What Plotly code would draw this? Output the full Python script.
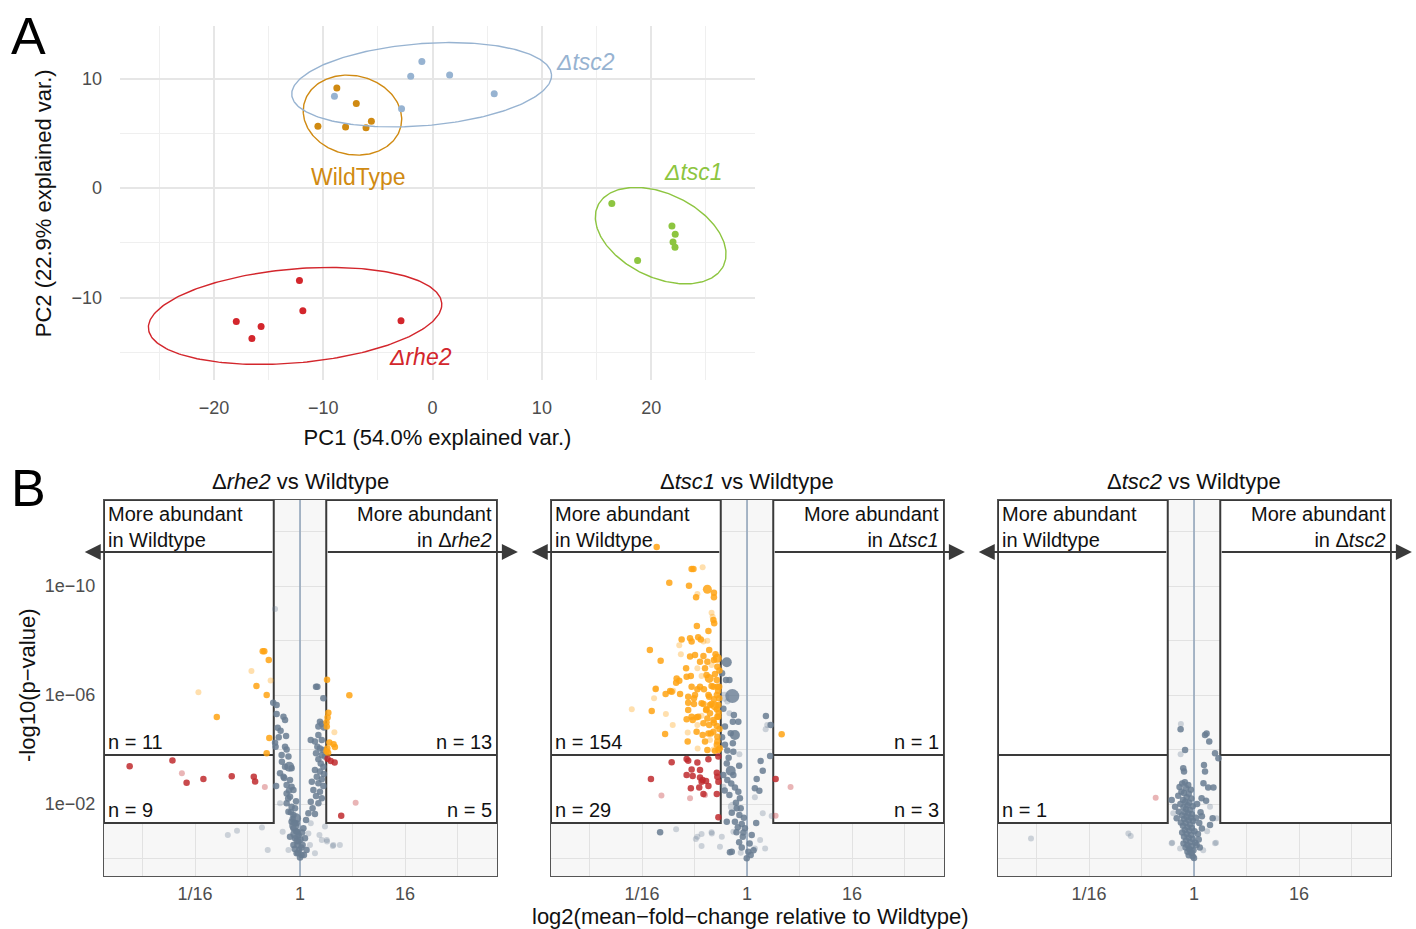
import numpy as np
import plotly.graph_objects as go

W, H = 1416, 929
FONT = "Liberation Sans, Arial, sans-serif"

# ---------------- Panel A: PCA data ----------------
wt_pc1 = [-8.76, -6.98, -10.49, -7.96, -6.09, -5.6]
wt_pc2 = [9.13, 7.72, 5.64, 5.57, 5.51, 6.09]
tsc2_pc1 = [-8.98, -2.84, -2.0, -0.98, 1.56, 5.64]
tsc2_pc2 = [8.39, 7.23, 10.2, 11.55, 10.32, 8.61]
tsc1_pc1 = [16.4, 18.76, 21.9, 22.2, 22.0, 22.18]
tsc1_pc2 = [-1.41, -6.62, -3.46, -4.23, -4.93, -5.42]
rhe2_pc1 = [-12.18, -11.87, -17.96, -15.69, -16.53, -2.89]
rhe2_pc2 = [-8.45, -11.21, -12.19, -12.65, -13.75, -12.13]
# confidence ellipses: centre x, centre y, semi-axis a, semi-axis b, angle (deg)
wt_ell = (-7.33, 6.66, 4.55, 3.6, -13.0)
tsc2_ell = (-1.0, 9.43, 11.92, 3.75, 4.5)
tsc1_ell = (20.87, -4.35, 6.37, 3.82, -25.5)
rhe2_ell = (-12.58, -11.68, 13.47, 4.29, 5.0)
group_labels = ["WildType", "<i>Δtsc2</i>", "<i>Δtsc1</i>", "<i>Δrhe2</i>"]
label_pos = [(-6.8, 1.0), (14.0, 11.5), (23.84, 1.46), (-1.14, -15.43)]

# ---------------- Panel B: volcano data (log2 FC, -log10 p) ----------------
rhe2_orange = [(-1.42, 7.61), (-1.36, 7.61), (-1.19, 7.28), (-1.66, 6.33), (-1.27, 6.0),
               (-3.17, 5.19), (-1.17, 4.42), (-1.27, 3.86),
               (1.03, 6.56), (1.88, 5.99), (1.08, 5.35), (1.05, 5.17), (1.01, 5.0), (1.02, 4.84),
               (1.12, 4.26), (1.28, 4.19), (1.33, 4.09), (1.04, 4.04), (1.01, 3.94), (1.07, 3.88)]
rhe2_orange_faint = [(-1.85, 6.88), (-1.12, 6.53), (-3.87, 6.1), (1.31, 4.63)]
rhe2_red = [(-6.49, 3.39), (-4.86, 3.6), (-4.32, 2.78), (-3.68, 2.92), (-2.6, 3.02), (-1.76, 3.0),
            (-1.71, 2.83), (1.05, 3.66), (1.17, 3.58), (1.32, 3.52), (1.57, 1.57)]
rhe2_red_faint = [(-4.5, 3.13), (-1.34, 2.62), (2.12, 2.05)]
rhe2_grey = [(-1.02, 5.72), (-0.89, 5.63), (-0.89, 5.3), (-0.63, 5.2), (-0.57, 5.08), (-0.74, 4.69),
             (-0.53, 4.5), (-0.81, 4.45), (-0.95, 4.25), (-0.93, 4.1), (-0.57, 4.1), (-0.51, 4.0),
             (-0.44, 3.74), (-0.69, 3.55), (-0.57, 3.37), (-0.32, 3.31), (-0.76, 3.13), (-0.63, 3.0),
             (-0.38, 2.88), (-0.51, 2.7), (-0.91, 2.66), (-0.32, 2.63), (-0.25, 2.51), (-0.51, 2.39),
             (-0.38, 2.27), (-0.51, 2.03), (-0.32, 1.9), (-0.19, 1.84), (-0.44, 1.72), (-0.25, 1.6),
             (-0.32, 1.35), (-0.13, 1.29), (-0.25, 1.11), (-0.1, 0.98), (-0.38, 0.8), (-0.19, 0.74),
             (-0.06, 0.62), (-0.25, 0.5), (-0.03, 0.31), (-0.13, 0.19), (0.0, 0.04), (0.06, 0.13),
             (0.61, 6.3), (0.66, 6.3), (0.89, 5.88), (0.76, 5.02), (0.83, 4.94), (0.70, 4.84),
             (0.91, 4.81), (0.70, 4.53), (0.41, 4.35), (0.57, 4.29), (0.83, 4.35), (0.66, 4.1),
             (0.76, 4.04), (0.89, 3.98), (0.61, 3.86), (0.83, 3.8), (0.95, 3.74), (0.70, 3.64),
             (0.79, 3.49), (0.89, 3.37), (0.57, 3.25), (0.76, 3.19), (0.91, 3.1), (0.64, 3.0),
             (0.83, 2.91), (0.45, 2.82), (0.70, 2.76), (0.89, 2.66), (0.51, 2.51), (0.76, 2.45),
             (0.61, 2.29), (0.83, 2.21), (0.41, 2.08), (0.70, 2.03), (0.48, 1.84), (0.32, 1.66),
             (0.57, 1.63), (0.23, 1.41), (0.13, 1.11), (0.19, 0.74), (0.10, 0.5), (0.25, 0.31),
             (0.15, 0.13), (-0.15, 1.0), (-0.1, 0.5), (-0.05, 0.85), (-0.2, 1.3), (-0.08, 0.2),
             (0.05, 0.4), (-0.12, 0.65), (-0.2, 0.35), (-0.28, 1.45), (-0.35, 1.7), (-0.15, 2.1),
             (-0.42, 2.5), (-0.6, 2.95), (-0.7, 3.8), (-0.85, 4.8), (-0.45, 2.2), (0.02, 0.7),
             (0.08, 0.95)]
rhe2_grey_faint = [(-0.95, 9.16), (-1.23, 0.31), (-1.45, 1.14), (-0.66, 0.98), (-0.44, 0.31),
                   (-2.75, 0.86), (-2.4, 1.02), (-0.76, 2.03), (0.41, 1.29), (0.32, 0.92),
                   (0.95, 1.17), (0.74, 0.86), (1.02, 0.68), (1.27, 0.5), (1.52, 0.5), (0.83, 0.68),
                   (0.57, 0.19), (0.38, 0.5), (1.03, 0.62), (1.25, 0.46)]
rhe2_grey_big = [(-0.41, 3.37), (-0.15, 1.48), (-0.22, 1.2), (-0.18, 0.9)]

tsc1_orange = [(-2.11, 10.62), (-2.04, 10.62), (-2.96, 10.12), (-2.21, 10.01), (-1.94, 9.59),
               (-1.26, 9.75), (-1.26, 9.59), (-1.28, 8.75), (-1.25, 8.63), (-1.91, 8.53),
               (-1.47, 8.35), (-2.49, 8.04), (-2.17, 8.08), (-2.11, 7.96), (-1.86, 8.12),
               (-1.76, 8.04), (-3.7, 7.65), (-3.29, 7.26), (-2.17, 7.41), (-1.98, 7.47),
               (-1.66, 7.43), (-1.44, 7.65), (-1.79, 7.22), (-1.51, 7.22), (-1.26, 7.28),
               (-1.13, 7.04), (-1.6, 6.98), (-2.32, 6.98), (-2.68, 6.61), (-2.58, 6.52),
               (-2.3, 6.67), (-2.14, 6.7), (-2.7, 6.45), (-1.54, 6.73), (-1.22, 6.77),
               (-1.15, 6.55), (-2.11, 6.3), (-1.89, 6.21), (-1.64, 6.21), (-1.35, 6.33),
               (-1.13, 6.3), (-3.1, 6.04), (-2.87, 6.12), (-2.55, 6.04), (-2.24, 5.94),
               (-2.02, 5.88), (-1.44, 5.94), (-1.26, 5.84), (-1.06, 5.88), (-2.24, 5.72),
               (-2.02, 5.67), (-1.73, 5.7), (-1.41, 5.63), (-3.63, 5.41), (-2.24, 5.45),
               (-1.54, 5.48), (-1.15, 5.48), (-2.3, 5.11), (-2.11, 5.2), (-1.92, 5.18),
               (-1.51, 5.14), (-1.28, 5.08), (-1.09, 5.2), (-1.66, 4.96), (-1.44, 4.9),
               (-1.15, 4.86), (-3.12, 4.57), (-1.69, 4.53), (-1.47, 4.59), (-1.28, 4.65),
               (-1.13, 4.47), (-2.26, 4.29), (-1.6, 4.29), (-1.15, 4.17), (-1.51, 3.98),
               (-1.09, 3.98), (-3.44, 11.43), (-3.48, 6.22), (-2.93, 6.15), (-1.22, 3.95),
               (-1.13, 4.29), (-1.92, 4.65), (-2.07, 5.08), (-1.86, 5.2), (-1.41, 5.33),
               (-1.13, 5.2), (-1.26, 4.98), (-1.56, 5.45), (-1.09, 5.63), (-1.35, 5.67),
               (-1.66, 5.67), (-1.98, 6.0), (-1.47, 6.0), (-1.15, 6.0), (-1.79, 6.3),
               (-1.28, 6.3), (-1.06, 6.3), (-1.38, 4.59), (-1.04, 4.05), (-1.05, 4.75),
               (-1.08, 5.35), (-1.1, 6.15), (-1.05, 6.9), (-1.2, 7.5), (1.32, 4.56)]
tsc1_orange_faint = [(-1.69, 10.69), (-1.89, 9.71), (-1.35, 9.02), (-1.31, 8.87), (-1.66, 7.96),
                     (-1.51, 7.99), (-2.58, 7.83), (-2.52, 7.5), (-1.35, 7.1), (-1.89, 6.98),
                     (-1.73, 6.7), (-3.47, 6.25), (-2.81, 6.16), (-3.54, 5.88), (-4.39, 5.48),
                     (-3.09, 5.3), (-1.73, 5.24), (-2.83, 4.9), (-1.89, 4.9), (-2.26, 4.62),
                     (-1.41, 4.35), (-1.88, 4.04), (-1.28, 4.0)]
tsc1_orange_big = [(-1.51, 9.88), (-1.13, 7.35), (-1.44, 6.61), (-1.22, 5.6)]
tsc1_red = [(-2.87, 3.53), (-2.3, 3.65), (-2.24, 3.59), (-1.89, 3.52), (-1.47, 3.64), (-1.09, 3.74),
            (-1.79, 3.25), (-2.11, 3.27), (-3.66, 2.92), (-2.3, 3.06), (-2.07, 3.03), (-1.79, 2.97),
            (-1.69, 2.88), (-1.56, 2.84), (-1.73, 2.82), (-1.15, 3.15), (-1.13, 3.0), (-1.09, 2.82),
            (-2.14, 2.58), (-1.82, 2.61), (-1.47, 2.66), (-1.15, 2.37), (-1.09, 1.51), (-1.66, 2.37),
            (1.09, 2.92)]
tsc1_red_faint = [(-3.26, 2.31), (-2.17, 2.21), (-1.6, 2.33), (1.66, 2.62), (1.09, 1.57)]
tsc1_grey = [(-0.8, 6.55), (-0.67, 6.55), (-0.5, 5.27), (-0.54, 5.02), (-0.33, 5.02), (-0.84, 4.84),
             (-0.54, 4.23), (-0.84, 4.17), (-0.75, 3.96), (-0.52, 3.92), (0.72, 5.23), (0.9, 4.9),
             (0.52, 3.58), (0.88, 3.76), (0.6, 3.22), (0.37, 2.92), (0.3, 2.58), (0.47, 2.49),
             (-0.77, 3.49), (-0.52, 3.06), (-0.9, 3.06), (-0.75, 2.88), (-0.46, 2.61), (-0.33, 2.45),
             (-0.67, 2.33), (-0.27, 2.21), (-0.39, 1.84), (-0.24, 1.84), (-0.58, 1.68), (-0.29, 1.6),
             (-0.77, 1.35), (-0.46, 1.35), (-0.2, 1.27), (-0.08, 1.11), (-0.14, 0.95), (0.18, 0.86),
             (-0.16, 0.8), (-0.58, 0.25), (0.05, 0.25), (0.14, 0.13), (-0.01, 0.01), (-3.31, 0.96),
             (-0.65, 0.23), (-0.4, 0.96), (-0.95, 6.8), (-0.9, 5.5), (-0.62, 4.6), (-0.95, 4.45),
             (-0.7, 3.7), (-0.3, 3.4), (-0.6, 2.75), (-0.85, 2.5), (-0.42, 2.05), (-0.12, 1.5),
             (-0.35, 1.15), (0.1, 0.55), (-0.3, 0.6), (-0.2, 0.4), (0.25, 0.3), (0.35, 1.3)]
tsc1_grey_faint = [(-0.29, 3.83), (0.77, 4.9), (0.3, 2.25), (0.6, 1.66), (0.94, 1.56), (-0.9, 2.63),
                   (-0.52, 0.98), (0.3, 0.37), (0.5, 0.68), (0.69, 0.37), (-0.96, 0.8), (-1.34, 0.92),
                   (-1.73, 0.9), (-1.89, 0.8), (-1.73, 0.46), (-1.03, 0.43), (-0.24, 0.21),
                   (-2.7, 1.07), (-1.95, 0.72), (-1.35, 0.96), (-0.75, 5.76), (-0.67, 5.33),
                   (0.71, 4.74)]
tsc1_grey_big = [(-0.77, 7.2), (-0.46, 4.53), (-0.62, 3.22)]
tsc1_grey_huge = [(-0.56, 5.96)]
tsc1_grey_big_faint = [(-0.86, 5.94), (-0.54, 1.9)]

tsc2_grey = [(-0.51, 4.74), (-0.34, 3.98), (-0.41, 3.31), (-0.38, 3.19), (0.42, 4.53), (0.48, 4.59),
             (0.58, 4.29), (0.8, 3.86), (0.93, 3.68), (0.38, 3.43), (0.42, 3.19), (0.36, 2.76),
             (0.54, 2.61), (0.74, 2.61), (0.29, 2.21), (0.46, 2.12), (0.71, 1.48), (0.61, 1.23),
             (-0.85, 2.15), (-0.72, 1.9), (-0.66, 1.48),
             (-0.45, 2.75), (-0.35, 2.8), (-0.22, 2.7), (-0.55, 2.62), (-0.3, 2.58), (-0.12, 2.52),
             (-0.48, 2.45), (-0.38, 2.4), (-0.2, 2.38), (-0.6, 2.3), (-0.28, 2.25), (-0.1, 2.2),
             (-0.42, 2.15), (-0.33, 2.08), (-0.18, 2.05), (-0.52, 2.0), (-0.25, 1.95), (-0.05, 1.92),
             (-0.4, 1.88), (-0.3, 1.82), (-0.15, 1.78), (-0.58, 1.72), (-0.35, 1.7), (-0.22, 1.65),
             (-0.08, 1.62), (-0.45, 1.58), (-0.28, 1.52), (-0.12, 1.5), (-0.38, 1.45), (-0.2, 1.4),
             (-0.03, 1.38), (-0.5, 1.32), (-0.32, 1.3), (-0.15, 1.25), (-0.42, 1.2), (-0.25, 1.15),
             (-0.08, 1.12), (-0.35, 1.05), (-0.18, 1.02), (0.02, 1.0), (-0.45, 0.95), (-0.28, 0.9),
             (-0.12, 0.86), (-0.38, 0.8), (-0.2, 0.76), (-0.05, 0.72), (-0.3, 0.66), (-0.15, 0.6),
             (0.05, 0.58), (-0.4, 0.55), (-0.25, 0.5), (-0.1, 0.45), (-0.32, 0.4), (-0.18, 0.35),
             (-0.02, 0.3), (-0.25, 0.25), (-0.1, 0.2), (-0.2, 0.12), (-0.05, 0.08), (0.0, 0.02),
             (-0.15, 0.3), (0.1, 0.5), (0.15, 0.9), (0.2, 1.3), (0.25, 1.7), (0.12, 2.0), (0.3, 1.1),
             (0.18, 0.7), (0.08, 1.5), (0.22, 0.4), (0.3, 1.55)]
tsc2_grey_faint = [(-0.5, 4.94), (-0.51, 3.83), (0.61, 1.9), (0.8, 0.56), (0.86, 1.48), (-0.79, 1.66),
                   (-0.85, 0.56), (-0.53, 0.37), (-6.21, 0.73), (-2.5, 0.92), (-2.41, 0.83),
                   (-0.83, 0.58), (0.84, 0.58), (0.35, 0.3), (0.5, 1.0)]
tsc2_red_faint = [(-1.46, 2.23)]

panel_titles = ["Δ<i>rhe2</i> vs Wildtype", "Δ<i>tsc1</i> vs Wildtype", "Δ<i>tsc2</i> vs Wildtype"]
panel_mutants = ["Δ<i>rhe2</i>", "Δ<i>tsc1</i>", "Δ<i>tsc2</i>"]
counts_up_left = ["n = 11", "n = 154", ""]
counts_up_right = ["n = 13", "n = 1", ""]
counts_low_left = ["n = 9", "n = 29", "n = 1"]
counts_low_right = ["n = 5", "n = 3", ""]
x_tickvals = [-4, 0, 4]
x_ticktext = ["1/16", "1", "16"]
y_tickvals = [2, 6, 10]
y_ticktext = ["1e\u221202", "1e\u221206", "1e\u221210"]

FC_CUT = 1.0
P_CUT = 1.301      # p = 0.05
Q_CUT = 3.8        # adjusted threshold
ARROW_Y = 11.25

# ---------------- colours ----------------
C_WT, C_TSC2, C_TSC1, C_RHE2 = "#D08A12", "#97B3D1", "#8DC540", "#D3262C"
C_OR, C_RED, C_GREY = "#FFA313", "#BF2A2E", "#687C92"
C_BOX = "#3a3a3a"

fig = go.Figure()

# ---------------- Panel A ----------------
def ellipse(p):
    cx, cy, a, b, ang = p
    t = np.linspace(0, 2 * np.pi, 241)
    th = np.deg2rad(ang)
    x = cx + a * np.cos(t) * np.cos(th) - b * np.sin(t) * np.sin(th)
    y = cy + a * np.cos(t) * np.sin(th) + b * np.sin(t) * np.cos(th)
    return x, y

for xs, ys, ell, col in [(wt_pc1, wt_pc2, wt_ell, C_WT), (tsc2_pc1, tsc2_pc2, tsc2_ell, C_TSC2),
                         (tsc1_pc1, tsc1_pc2, tsc1_ell, C_TSC1), (rhe2_pc1, rhe2_pc2, rhe2_ell, C_RHE2)]:
    ex, ey = ellipse(ell)
    fig.add_trace(go.Scatter(x=ex, y=ey, mode="lines", line=dict(color=col, width=1.4),
                             xaxis="x", yaxis="y", showlegend=False, hoverinfo="skip"))
    fig.add_trace(go.Scatter(x=xs, y=ys, mode="markers", marker=dict(color=col, size=7),
                             xaxis="x", yaxis="y", showlegend=False))

annotations = []
for lab, (lx, ly), col in zip(group_labels, label_pos, [C_WT, C_TSC2, C_TSC1, C_RHE2]):
    annotations.append(dict(x=lx, y=ly, xref="x", yref="y", text=lab, showarrow=False,
                            xanchor="center", yanchor="middle",
                            font=dict(size=23, color=col, family=FONT)))

# ---------------- Panel B ----------------
XMIN, XMAX = -7.467, 7.505
YMIN, YMAX = -0.642, 13.156
panels = [
    dict(grey=rhe2_grey, grey_faint=rhe2_grey_faint, grey_big=rhe2_grey_big, grey_huge=[], grey_big_faint=[],
         orange=rhe2_orange, orange_faint=rhe2_orange_faint, orange_big=[], red=rhe2_red, red_faint=rhe2_red_faint),
    dict(grey=tsc1_grey, grey_faint=tsc1_grey_faint, grey_big=tsc1_grey_big, grey_huge=tsc1_grey_huge,
         grey_big_faint=tsc1_grey_big_faint, orange=tsc1_orange, orange_faint=tsc1_orange_faint,
         orange_big=tsc1_orange_big, red=tsc1_red, red_faint=tsc1_red_faint),
    dict(grey=tsc2_grey, grey_faint=tsc2_grey_faint, grey_big=[], grey_huge=[], grey_big_faint=[],
         orange=[], orange_faint=[], orange_big=[], red=[], red_faint=tsc2_red_faint),
]
styles = [("grey_faint", C_GREY, 6, 0.3), ("grey_big_faint", C_GREY, 10, 0.3), ("grey", C_GREY, 6.5, 0.85),
          ("grey_big", C_GREY, 10, 0.85), ("grey_huge", C_GREY, 14, 0.8),
          ("orange_faint", C_OR, 6, 0.35), ("orange", C_OR, 6.5, 0.85), ("orange_big", C_OR, 9, 0.85),
          ("red_faint", C_RED, 6, 0.35), ("red", C_RED, 6.5, 0.85)]

shapes = []
for i, pdat in enumerate(panels):
    k = i + 2
    xa, ya = f"x{k}", f"y{k}"
    shapes.append(dict(type="rect", xref=f"{xa} domain", yref=f"{ya} domain", x0=0, x1=1, y0=0, y1=1,
                       fillcolor="#f7f7f7", line=dict(width=0), layer="below"))
    for bx0, bx1 in [(XMIN, -FC_CUT), (FC_CUT, XMAX)]:
        shapes.append(dict(type="rect", xref=xa, yref=ya, x0=bx0, x1=bx1, y0=P_CUT, y1=YMAX,
                           fillcolor="white", line=dict(color=C_BOX, width=2), layer="between"))
        shapes.append(dict(type="line", xref=xa, yref=ya, x0=bx0, x1=bx1, y0=Q_CUT, y1=Q_CUT,
                           line=dict(color=C_BOX, width=2), layer="between"))
    shapes.append(dict(type="line", xref=xa, yref=ya, x0=0, x1=0, y0=YMIN, y1=YMAX,
                       line=dict(color="#8EA2B8", width=1.5), layer="between"))
    for key, col, sz, op in styles:
        pts = pdat[key]
        if not pts:
            continue
        fig.add_trace(go.Scatter(x=[p[0] for p in pts], y=[p[1] for p in pts], mode="markers",
                                 marker=dict(color=col, size=sz, opacity=op, line=dict(width=0)),
                                 xaxis=xa, yaxis=ya, showlegend=False, hoverinfo="skip"))
    for tip, tail in [(-8.2, -FC_CUT), (8.3, FC_CUT)]:
        annotations.append(dict(x=tip, y=ARROW_Y, ax=tail, ay=ARROW_Y, xref=xa, yref=ya, axref=xa, ayref=ya,
                                text="", showarrow=True, arrowhead=2, arrowsize=1.6, arrowwidth=2,
                                arrowcolor=C_BOX))
    tf = dict(size=20, color="#111111", family=FONT)
    annotations.append(dict(x=XMIN, y=YMAX, xref=xa, yref=ya, xanchor="left", yanchor="top", xshift=2,
                            yshift=-1, align="left", text="More abundant<br>in Wildtype",
                            showarrow=False, font=tf))
    annotations.append(dict(x=XMAX, y=YMAX, xref=xa, yref=ya, xanchor="right", yanchor="top", xshift=-3,
                            yshift=-1, align="right", text=f"More abundant<br>in {panel_mutants[i]}",
                            showarrow=False, font=tf))
    for txt, xx, anc, yy, xs in [(counts_up_left[i], XMIN, "left", Q_CUT, 2),
                                 (counts_up_right[i], XMAX, "right", Q_CUT, -3),
                                 (counts_low_left[i], XMIN, "left", P_CUT, 2),
                                 (counts_low_right[i], XMAX, "right", P_CUT, -3)]:
        if txt:
            annotations.append(dict(x=xx, y=yy, xref=xa, yref=ya, xanchor=anc, yanchor="bottom",
                                    xshift=xs, yshift=0, text=txt, showarrow=False, font=tf))
    annotations.append(dict(x=0, y=YMAX, xref=xa, yref=ya, xanchor="center", yanchor="bottom", yshift=4,
                            text=panel_titles[i], showarrow=False,
                            font=dict(size=22, color="#111111", family=FONT)))

annotations += [
    dict(x=28 / W, y=1 - 36 / H, xref="paper", yref="paper", text="A", showarrow=False,
         xanchor="center", yanchor="middle", font=dict(size=52, color="black", family=FONT)),
    dict(x=28 / W, y=1 - 488 / H, xref="paper", yref="paper", text="B", showarrow=False,
         xanchor="center", yanchor="middle", font=dict(size=52, color="black", family=FONT)),
    dict(x=750 / W, y=1 - 916 / H, xref="paper", yref="paper", xanchor="center", yanchor="middle",
         text="log2(mean\u2212fold\u2212change relative to Wildtype)", showarrow=False,
         font=dict(size=22, color="#111111", family=FONT)),
    dict(x=27 / W, y=1 - 686 / H, xref="paper", yref="paper", text="-log10(p\u2212value)", textangle=-90,
         xanchor="center", yanchor="middle", showarrow=False,
         font=dict(size=22, color="#111111", family=FONT)),
]

tickfont = dict(size=18, color="#4d4d4d", family=FONT)
layout = dict(
    width=W, height=H, margin=dict(l=0, r=0, t=0, b=0), autosize=False,
    paper_bgcolor="white", plot_bgcolor="white", font=dict(family=FONT),
    shapes=shapes, annotations=annotations, showlegend=False,
    xaxis=dict(domain=[120 / W, 755 / W], range=[-28.6, 29.5], anchor="y", tickmode="linear", tick0=0,
               dtick=10, showgrid=True, gridcolor="#e6e6e6", gridwidth=1.6, zeroline=False,
               minor=dict(dtick=5, tick0=0, showgrid=True, gridcolor="#efefef", gridwidth=1),
               tickfont=tickfont, ticklabelstandoff=15,
               title=dict(text="PC1 (54.0% explained var.)", standoff=12,
                          font=dict(size=22, color="#111111", family=FONT))),
    yaxis=dict(domain=[1 - 380.2 / H, 1 - 26.4 / H], range=[-17.55, 14.76], anchor="x", tickmode="linear",
               tick0=0, dtick=10, showgrid=True, gridcolor="#e6e6e6", gridwidth=1.6, zeroline=False,
               minor=dict(dtick=5, tick0=0, showgrid=True, gridcolor="#efefef", gridwidth=1),
               tickfont=tickfont, ticklabelstandoff=17,
               title=dict(text="PC2 (22.9% explained var.)", standoff=13,
                          font=dict(size=22, color="#111111", family=FONT))),
)
xdoms = [[104 / W, 497 / W], [551 / W, 944 / W], [998 / W, 1391 / W]]
for i in range(3):
    k = i + 2
    layout[f"xaxis{k}"] = dict(domain=xdoms[i], range=[XMIN, XMAX], anchor=f"y{k}", tickmode="array",
                               tickvals=x_tickvals, ticktext=x_ticktext, showgrid=True, gridcolor="#e2e2e2",
                               gridwidth=1, zeroline=False,
                               minor=dict(tickvals=[-6, -2, 2, 6], showgrid=True, gridcolor="#e2e2e2",
                                          gridwidth=1),
                               showline=True, mirror=True, linecolor="#555555", linewidth=1.2,
                               tickfont=tickfont, ticklabelstandoff=1)
    layout[f"yaxis{k}"] = dict(domain=[1 - 876 / H, 1 - 500 / H], range=[YMIN, YMAX], anchor=f"x{k}",
                               tickmode="array", tickvals=y_tickvals,
                               ticktext=y_ticktext if i == 0 else ["", "", ""],
                               showgrid=True, gridcolor="#e2e2e2", gridwidth=1, zeroline=False,
                               minor=dict(tickvals=[0, 4, 8, 12], showgrid=True, gridcolor="#e2e2e2",
                                          gridwidth=1),
                               showline=True, mirror=True, linecolor="#555555", linewidth=1.2,
                               tickfont=tickfont, ticklabelstandoff=4)
fig.update_layout(**layout)
fig.write_html("out.html", config={"displayModeBar": False},
               post_script="document.body.style.margin='0';document.body.style.overflow='hidden';")
